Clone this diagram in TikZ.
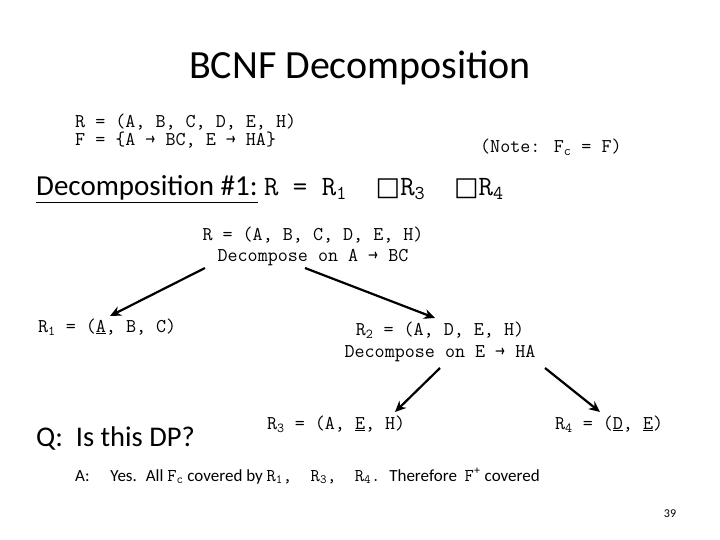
\documentclass[tikz,border=0pt]{standalone}
\usepackage{fontspec}
\setmainfont{Carlito}
\newfontfamily\djv{DejaVu Sans}
\usetikzlibrary{arrows.meta}
\tikzset{mono/.style={font=\ttfamily\fontsize{19.5}{21}\selectfont,inner sep=0pt},
 arr/.style={line width=2.2pt,-{Stealth[length=11pt,width=10pt]}}}
\newcommand{\bx}{{\djv\fontsize{26}{26}\selectfont □}}
\begin{document}
\begin{tikzpicture}[x=1pt,y=-1pt]
\useasboundingbox (0,0) rectangle (720,540);
\node[inner sep=0pt,font=\fontsize{40}{44}\selectfont] (title) at (360,68) {BCNF Decomposition};
\node[mono,anchor=west] (r) at (75,122) {R = (A, B, C, D, E, H)};
\node[mono,anchor=west] (f) at (75,140) {F = \{A → BC, E → HA\}};
\node[mono,anchor=west] (note) at (480,147) {(Note: F\textsubscript{c} = F)};
\node[anchor=west,inner sep=0pt] (dec) at (36,189) {\fontsize{29}{32}\selectfont\underline{Decomposition \#1:} \ttfamily\fontsize{28}{30}\selectfont R = R\textsubscript{1} \ \bx R\textsubscript{3} \ \bx R\textsubscript{4}};
\node[mono,align=center] (top) at (313,246) {R = (A, B, C, D, E, H)\\Decompose on A → BC};
\node[mono,anchor=west] (r1) at (38,327) {R\textsubscript{1} = (\underline{A}, B, C)};
\node[mono,align=center] (r2) at (440,342) {R\textsubscript{2} = (A, D, E, H)\\[1pt]Decompose on E → HA};
\node[mono,anchor=west] (r3) at (267,424) {R\textsubscript{3} = (A, \underline{E}, H)};
\node[mono,anchor=west] (r4) at (555,424) {R\textsubscript{4} = (\underline{D}, \underline{E})};
\node[anchor=west,inner sep=0pt,font=\fontsize{28.5}{30}\selectfont] (q) at (36,438) {Q: \ Is this DP?};
\node[anchor=west,inner sep=0pt,font=\fontsize{17}{20}\selectfont] (a) at (75,476) {A: \quad Yes. \ All {\ttfamily\fontsize{18}{20}\selectfont F\textsubscript{c}} covered by {\ttfamily\fontsize{18}{20}\selectfont R\textsubscript{1}, \ R\textsubscript{3}, \ R\textsubscript{4}.} \ Therefore \ {\ttfamily\fontsize{18}{20}\selectfont F\textsuperscript{+}} covered};
\node[inner sep=0pt,font=\fontsize{12}{14}\selectfont] (pg) at (670,514) {39};
\coordinate (l1) at (205,268); \coordinate (l2) at (110,316);
\coordinate (m1) at (305,268); \coordinate (m2) at (435,318);
\coordinate (n1) at (440,368); \coordinate (n2) at (395,412);
\coordinate (o1) at (545,368); \coordinate (o2) at (600,412);
\draw[arr] (l1) -- (l2);
\draw[arr] (m1) -- (m2);
\draw[arr] (n1) -- (n2);
\draw[arr] (o1) -- (o2);
\end{tikzpicture}
\end{document}
